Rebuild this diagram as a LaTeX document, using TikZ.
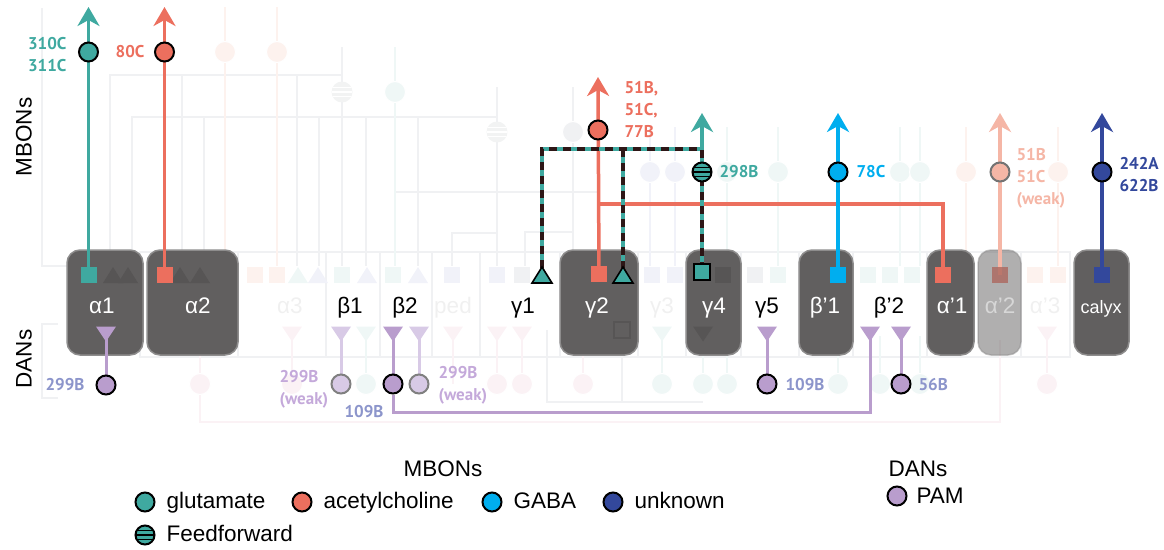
\documentclass[tikz,border=0pt]{standalone}
\usepackage{fontspec}
\setmainfont{Liberation Sans}
\newfontfamily\numfont{PT Sans}
\usepackage{tikz}
\usetikzlibrary{arrows.meta}
\definecolor{glutteal}{HTML}{3FA9A0}
\definecolor{achred}{HTML}{EC6F5E}
\definecolor{achfade}{HTML}{F5B6A6}
\definecolor{gabablue}{HTML}{00AEEF}
\definecolor{unknavy}{HTML}{33489C}
\definecolor{pampurple}{HTML}{B99DCD}
\definecolor{pamfade}{HTML}{D8CAE6}
\definecolor{pamtext}{HTML}{8C95CB}
\definecolor{pamtextfade}{HTML}{C4A9DA}
\definecolor{ffbrown}{HTML}{2D1616}
\definecolor{lobegray}{HTML}{615F5F}
\definecolor{lobeedge}{HTML}{8E8D8D}
\definecolor{ghostgray}{HTML}{F0F1F3}
\definecolor{ghostteal}{HTML}{EFF7F6}
\definecolor{ghostsalmon}{HTML}{FDF2EE}
\definecolor{ghostpink}{HTML}{FBF2F5}
\definecolor{ghostblue}{HTML}{F1F2F9}
\definecolor{ghostdark}{HTML}{575555}

\pgfdeclarelayer{ghost}
\pgfdeclarelayer{lobes}
\pgfdeclarelayer{wires}
\pgfsetlayers{ghost,lobes,wires,main}

\tikzset{
  lobe/.style={draw=lobeedge, line width=1.5pt, fill=lobegray, rounded corners=13pt,
    minimum height=105pt, inner sep=0pt},
  lobetext/.style={anchor=base, text=white, font=\fontsize{22.5}{26}\selectfont},
  comptext/.style={anchor=base, text=black, font=\fontsize{22.5}{26}\selectfont},
  mbon/.style={circle, draw=black, line width=2pt, minimum size=19pt, inner sep=0pt},
  dan/.style={mbon, fill=pampurple},
  danfade/.style={mbon, draw=black!50, fill=pamfade},
  stripes/.style={path picture={
    \foreach \s in {-4.5,0,4.5}
      \draw[#1, line width=1.7pt] ([yshift=\s pt]path picture bounding box.west)
        -- ([yshift=\s pt]path picture bounding box.east);}},
  pre/.style={minimum width=16pt, minimum height=16pt, inner sep=0pt},
  wire/.style={line width=3.5pt},
  danwire/.style={line width=3pt},
  up/.style={-{Stealth[length=19pt,width=22pt,inset=6pt]}},
  numlab/.style={font=\numfont\bfseries\fontsize{17}{22}\selectfont},
  legtext/.style={anchor=base west, font=\fontsize{22.5}{26}\selectfont},
  ghostline/.style={draw=ghostgray, line width=2.5pt},
  uptri/.pic={\path[pic actions] (-10,8) -- (10,8) -- (0,-8) -- cycle;},
  downtri/.pic={\path[pic actions] (-10,-7.5) -- (10,-7.5) -- (0,7.5) -- cycle;},
}

\begin{document}
\begin{tikzpicture}[x=1pt,y=-1pt]
  \useasboundingbox (0,0) rectangle (1164,549);

  % faint background circuit
  \begin{pgfonlayer}{ghost}
    \draw[ghostline] (42,8) -- (42,266) -- (67,266);
    \draw[ghostline] (58,324) -- (42,324) -- (42,398) -- (58,398);
    \draw[ghostline] (140,252) rectangle (1070,357);
    \foreach \x in {238,326,380,432,480,560,638,686,741,799,853,927,1021}
      \draw[ghostline] (\x,252) -- (\x,357);
    \draw[ghostline] (110,266) -- (110,75) -- (342,75);
    \draw[ghostline] (132,266) -- (132,117) -- (497,117);
    \foreach \x in {182,297} \draw[ghostline] (\x,75) -- (\x,266);
    \foreach \x in {204,319,366,418} \draw[ghostline] (\x,117) -- (\x,266);
    \draw[ghostline] (395,192) -- (600,192);
    \draw[ghostline] (452,266) -- (452,233) -- (497,233);
    \draw[ghostline] (525,266) -- (525,232) -- (573,232);
    \draw[ghostline, draw=ghostpink] (200,384) -- (200,422) -- (1000,422) -- (1000,340);
    \draw[ghostline] (547,330) -- (547,402) -- (703,402);
    \draw[ghostline] (622,330) -- (622,402);
    \foreach \x/\y/\c in {225/52/ghostsalmon, 277/52/ghostsalmon, 342/92/ghostgray,
        395/92/ghostteal, 497/132/ghostgray, 573/132/ghostgray, 650/172/ghostblue,
        675/172/ghostblue, 727/172/ghostteal, 778/172/ghostteal, 900/172/ghostteal,
        920/172/ghostteal, 966/172/ghostsalmon, 1058/172/ghostsalmon}
      \draw[\c, line width=2.5pt] (\x,\y-45) -- (\x,266);
    \foreach \x/\y/\c in {225/52/ghostsalmon, 277/52/ghostsalmon, 395/92/ghostteal,
        573/132/ghostgray, 650/172/ghostblue, 675/172/ghostblue, 727/172/ghostteal,
        778/172/ghostteal, 900/172/ghostteal, 920/172/ghostteal, 966/172/ghostsalmon,
        1058/172/ghostsalmon}
      \node[circle, fill=\c, draw=white, line width=1pt, minimum size=21pt, inner sep=0pt]
        (gm\x) at (\x,\y) {};
    \node[circle, fill=ghostgray!80!black!20, minimum size=21pt, inner sep=0pt, stripes=white]
      (gm342) at (342,92) {};
    \node[circle, fill=ghostgray!80!black!20, minimum size=21pt, inner sep=0pt, stripes=white]
      (gm497) at (497,132) {};
    \foreach \x/\c in {200/ghostpink, 292/ghostpink, 366/ghostteal, 453/ghostpink,
        497/ghostpink, 522/ghostpink, 583/ghostpink, 662/ghostteal, 703/ghostteal,
        727/ghostteal, 838/ghostteal, 880/ghostteal, 920/ghostteal, 1047/ghostpink}
      \draw[\c, line width=2.5pt] (\x,384) -- (\x,336);
    \foreach \x/\c in {200/ghostpink, 292/ghostpink, 366/ghostteal, 497/ghostpink,
        522/ghostpink, 583/ghostpink, 662/ghostteal, 703/ghostteal, 727/ghostteal,
        838/ghostteal, 880/ghostteal, 920/ghostteal, 1047/ghostpink}
      \node[circle, fill=\c, draw=white, line width=1pt, minimum size=21pt, inner sep=0pt]
        (gd\x) at (\x,384) {};
    \foreach \x/\c in {292/ghostpink, 366/ghostteal, 453/ghostpink, 497/ghostpink,
        522/ghostpink, 662/ghostteal, 1047/ghostpink}
      \pic[fill=\c] at (\x,334) {downtri};
    \foreach \x/\c in {255/ghostsalmon, 277/ghostsalmon, 342/ghostteal, 393/ghostteal,
        452/ghostblue, 497/ghostblue, 522/ghostgray, 652/ghostblue, 675/ghostblue,
        755/ghostgray, 778/ghostteal, 868/ghostteal, 890/ghostteal, 912/ghostteal,
        1035/ghostsalmon, 1058/ghostsalmon}
      \node[pre, fill=\c] (gs\x) at (\x,275) {};
    \foreach \x/\c in {298/ghostteal, 318/ghostblue, 367/ghostblue, 418/ghostblue}
      \pic[fill=\c] at (\x,275) {uptri};
  \end{pgfonlayer}

  % lobes
  \begin{pgfonlayer}{lobes}
    \foreach \n/\xa/\xb in {a1/67/143, a2/147/238, g2/560/638, g4/686/741,
        bp1/799/853, ap1/927/974, calyx/1074/1129}
      \node[lobe, minimum width={(\xb-\xa)*1pt}] (\n) at ({(\xa+\xb)/2},302.5) {};
    \node[lobe, fill opacity=0.5, draw opacity=0.5, minimum width=43pt]
      (ap2) at (999.5,302.5) {};
    \foreach \x in {113,128,180,200} \pic[fill=ghostdark] at (\x,275) {uptri};
    \node[pre, fill=ghostdark] (g4dark) at (723,275) {};
    \node[pre, draw=ghostdark, line width=1.5pt] (g2dark) at (622,330) {};
    \pic[fill=ghostdark] at (703,334) {downtri};
  \end{pgfonlayer}

  % compartment names
  \node[lobetext] (lbA1) at (102,313) {α1};
  \node[lobetext] (lbA2) at (198,313) {α2};
  \node[lobetext] (lbG2) at (597,313) {γ2};
  \node[lobetext] (lbG4) at (714,313) {γ4};
  \node[lobetext] (lbBp1) at (825,313) {β’1};
  \node[lobetext] (lbAp1) at (952,313) {α’1};
  \node[lobetext, text=white!75!lobegray] (lbAp2) at (1000,313) {α’2};
  \node[lobetext, font=\fontsize{18}{22}\selectfont] (lbCx) at (1101,313) {calyx};
  \node[comptext] (lbB1) at (350,313) {β1};
  \node[comptext] (lbB2) at (405,313) {β2};
  \node[comptext] (lbG1) at (523,313) {γ1};
  \node[comptext] (lbG5) at (767,313) {γ5};
  \node[comptext] (lbBp2) at (889,313) {β’2};
  \node[comptext, text=black!6] (lbA3) at (290,313) {α3};
  \node[comptext, text=black!6] (lbPed) at (453,313) {ped};
  \node[comptext, text=black!6] (lbG3) at (662,313) {γ3};
  \node[comptext, text=black!6] (lbAp3) at (1045,313) {α’3};

  \node[rotate=90, font=\fontsize{22.5}{26}\selectfont] (sideM) at (24,137) {MBONs};
  \node[rotate=90, font=\fontsize{22.5}{26}\selectfont] (sideD) at (24,359) {DANs};

  % MBON inputs in the lobes
  \node[pre, fill=glutteal] (sA1) at (88.5,275) {};
  \node[pre, fill=achred] (sA2) at (164.5,275) {};
  \node[pre, fill=achred] (sG2) at (599,274) {};
  \node[pre, fill=glutteal, draw=black, line width=1.6pt] (sG4) at (702,272) {};
  \node[pre, fill=gabablue] (sBp1) at (838,275) {};
  \node[pre, fill=achred] (sAp1) at (943,275) {};
  \node[pre, fill=achred!55!lobegray, fill opacity=0.8] (sAp2) at (1000,275) {};
  \node[pre, fill=unknavy] (sCx) at (1102,275) {};
  \pic[fill=glutteal, draw=black, line width=1.6pt] at (542,275) {uptri};
  \pic[fill=glutteal, draw=black, line width=1.6pt] at (623,275) {uptri};

  % MBON cell bodies
  \node[mbon, fill=glutteal] (mA1) at (88.5,52) {};
  \node[mbon, fill=achred] (mA2) at (164.5,52) {};
  \node[mbon, fill=achred] (mG2) at (598,130) {};
  \node[mbon, fill=glutteal, stripes=black] (mG4) at (702,172) {};
  \node[mbon, fill=gabablue] (mBp1) at (838,172) {};
  \node[mbon, fill=achfade, draw=black!55] (mAp2) at (1000,172) {};
  \node[mbon, fill=unknavy] (mCx) at (1102,172) {};

  \coordinate (tipA1) at (88.5,7);
  \coordinate (tipA2) at (164.5,7);
  \coordinate (tipG2) at (598,77);
  \coordinate (tipG4) at (702,113);
  \coordinate (tipBp1) at (838,113);
  \coordinate (tipAp2) at (1000,113);
  \coordinate (tipCx) at (1102,113);
  \coordinate (ffL) at (542,149);
  \coordinate (ffM) at (623,149);
  \coordinate (ffR) at (702,149);
  \coordinate (triG1) at (542,268);
  \coordinate (triG2) at (623,268);
  \coordinate (redK) at (598,204);
  \coordinate (redJ) at (943,204);

  \begin{pgfonlayer}{wires}
    \draw[wire, glutteal, up] (sA1.center) -- (tipA1);
    \draw[wire, achred, up] (sA2.center) -- (tipA2);
    \draw[wire, achred, up] (sG2.center) -- (tipG2);
    \draw[wire, achred] (redK) -- (redJ) -- (sAp1.center);
    \draw[wire, glutteal, up] (ffR) -- (tipG4);
    \draw[wire, glutteal] (triG1) -- (ffL) -- (ffR) -- (sG4.center) (ffM) -- (triG2);
    \draw[wire, ffbrown, dash pattern=on 8pt off 6pt]
      (triG1) -- (ffL) -- (ffR) -- (sG4.center) (ffM) -- (triG2);
    \draw[wire, gabablue, up] (sBp1.center) -- (tipBp1);
    \draw[wire, achfade, up] (sAp2.center) -- (tipAp2);
    \draw[wire, unknavy, up] (sCx.center) -- (tipCx);
  \end{pgfonlayer}

  % MBON labels
  \node[numlab, text=glutteal, align=right, anchor=east] (nA1) at (70,55) {310C\\311C};
  \node[numlab, text=achred, anchor=east] (nA2) at (148,52) {80C};
  \node[numlab, text=achred, align=left, anchor=west] (nG2) at (621,110) {51B,\\51C,\\77B};
  \node[numlab, text=glutteal, anchor=west] (nG4) at (716,172) {298B};
  \node[numlab, text=gabablue, anchor=west] (nBp1) at (853,172) {78C};
  \node[numlab, text=achfade, align=left, anchor=west] (nAp2) at (1013,178) {51B\\51C\\(weak)};
  \node[numlab, text=unknavy, align=left, anchor=west] (nCx) at (1116,175) {242A\\622B};

  % DANs
  \node[dan] (dA1) at (106,385) {};
  \node[danfade] (dB1) at (341,384) {};
  \node[dan] (dB2) at (393,384) {};
  \node[danfade] (dB2w) at (419,384) {};
  \node[dan] (dG5) at (767,384) {};
  \node[dan] (dBp2) at (901,384) {};
  \coordinate (tdA1) at (106,334);
  \coordinate (tdB1) at (341,334);
  \coordinate (tdB2) at (393,334);
  \coordinate (tdB2w) at (419,334);
  \coordinate (tdG5) at (767,334);
  \coordinate (tdBp2) at (901,334);
  \coordinate (tdBp2x) at (870,334);
  \coordinate (pamK) at (393,412);
  \coordinate (pamJ) at (870,412);
  \begin{pgfonlayer}{wires}
    \draw[danwire, pampurple] (dA1) -- (tdA1);
    \draw[danwire, pamfade] (dB1) -- (tdB1);
    \draw[danwire, pampurple] (dB2) -- (tdB2);
    \draw[danwire, pamfade] (dB2w) -- (tdB2w);
    \draw[danwire, pampurple] (dG5) -- (tdG5);
    \draw[danwire, pampurple] (dBp2) -- (tdBp2);
    \draw[danwire, pampurple] (dB2) -- (pamK) -- (pamJ) -- (tdBp2x);
  \end{pgfonlayer}
  \foreach \x in {106,393,767,870,901} \pic[fill=pampurple] at (\x,334) {downtri};
  \foreach \x in {341,419} \pic[fill=pamfade] at (\x,334) {downtri};

  \node[numlab, text=pamtext, anchor=east] (nA1d) at (88,385) {299B};
  \node[numlab, text=pamtextfade, align=left, anchor=west] (nB1d) at (276,389) {299B\\(weak)};
  \node[numlab, text=pamtextfade, align=left, anchor=west] (nB2w) at (435,385) {299B\\(weak)};
  \node[numlab, text=pamtext, anchor=east] (nB2d) at (387,412) {109B};
  \node[numlab, text=pamtext, anchor=west] (nG5d) at (782,385) {109B};
  \node[numlab, text=pamtext, anchor=west] (nBp2d) at (915,385) {56B};

  % legend
  \node[anchor=base, font=\fontsize{22.5}{26}\selectfont] (lgM) at (443,476) {MBONs};
  \node[anchor=base, font=\fontsize{22.5}{26}\selectfont] (lgD) at (918,476) {DANs};
  \node[mbon, fill=glutteal] (lgGlu) at (145,502) {};
  \node[legtext] (lgGluT) at (163,508) {glutamate};
  \node[mbon, fill=achred] (lgAch) at (302,502) {};
  \node[legtext] (lgAchT) at (320,508) {acetylcholine};
  \node[mbon, fill=gabablue] (lgGaba) at (492,502) {};
  \node[legtext] (lgGabaT) at (510,508) {GABA};
  \node[mbon, fill=unknavy] (lgUnk) at (613,502) {};
  \node[legtext] (lgUnkT) at (631,508) {unknown};
  \node[mbon, fill=glutteal, stripes=black] (lgFF) at (145,535) {};
  \node[legtext] (lgFFT) at (163,541) {Feedforward};
  \node[mbon, fill=pampurple] (lgPam) at (897,496) {};
  \node[legtext] (lgPamT) at (913,503) {PAM};
\end{tikzpicture}
\end{document}
